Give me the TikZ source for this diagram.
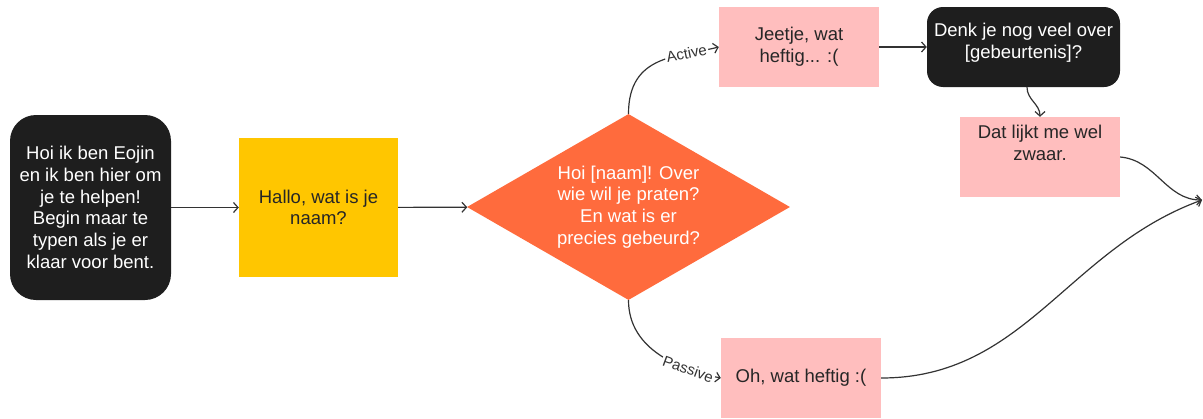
\documentclass[tikz,border=0pt]{standalone}
\usepackage{fontspec}
\setmainfont{Liberation Sans}
\usepackage{xcolor}
\usetikzlibrary{shapes,arrows.meta,positioning,calc}
\definecolor{boxblack}{HTML}{1E1E1E}
\definecolor{boxyellow}{HTML}{FFC600}
\definecolor{boxpink}{HTML}{FFBEBE}
\definecolor{diaorange}{HTML}{FF6B3D}
\definecolor{lijn}{HTML}{333333}
\tikzset{
    txt/.style={font=\fontsize{18.5}{21.7}\selectfont, align=center, inner sep=0pt},
    darkbox/.style={txt, fill=boxblack, text=white},
    pinkbox/.style={txt, fill=boxpink, text=black!85, minimum width=160pt, minimum height=80pt},
    yellowbox/.style={txt, fill=boxyellow, text=black!85, minimum width=159pt, minimum height=139pt},
    diabox/.style={txt, diamond, fill=diaorange, text=white, aspect=1.74, minimum width=323pt, minimum height=186pt},
    link/.style={draw=lijn, line width=1.2pt, -{Straight Barb[length=4.5pt,width=10pt]}},
    lbl/.style={font=\fontsize{15}{17}\selectfont, fill=white, inner sep=1.5pt, sloped, text=lijn}
}
\begin{document}
\begin{tikzpicture}[x=1pt,y=-1pt]
    \useasboundingbox (0,0) rectangle (1203,418);
    \node[darkbox, rounded corners=26pt, minimum width=161pt, minimum height=185pt] (start) at (90.5,207.5)
        {Hoi ik ben Eojin\\en ik ben hier om\\je te helpen!\\Begin maar te\\typen als je er\\klaar voor bent.};
    \node[yellowbox] (naam) at (318.5,207.5) {Hallo, wat is je\\naam?};
    \node[diabox] (vraag) at (628.5,207) {Hoi [naam]! Over\\wie wil je praten?\\En wat is er\\precies gebeurd?};
    \node[pinkbox] (actief) at (799,47) {Jeetje, wat\\heftig... :(};
    \node[darkbox, rounded corners=16pt, minimum width=193pt, minimum height=80pt, text depth=12pt] (denk) at (1023.5,47)
        {Denk je nog veel over\\{[gebeurtenis]?}};
    \node[pinkbox, text depth=28pt] (zwaar) at (1040,157) {Dat lijkt me wel\\zwaar.};
    \node[pinkbox] (passief) at (801,378) {Oh, wat heftig :(};
    \coordinate (uit) at (1202,200);

    \draw[link] (vraag.north) .. controls ($(vraag.north)+(0,-60)$) and ($(actief.west)+(-40,10)$) .. node[lbl, pos=0.74] {Active} (actief.west);
    \draw[link] (vraag.south) .. controls ($(vraag.south)+(0,50)$) and ($(passief.west)+(-40,-8)$) .. node[lbl, pos=0.74] {Passive} (passief.west);
    \draw[link] (start) -- (naam);
    \draw[link] (naam) -- (vraag);
    \draw[link] (actief) -- (denk);
    \draw[link] ($(denk.south)+(3.5,0)$) to[out=-90,in=90] (zwaar.north);
    \draw[link] (zwaar.east) to[out=-5,in=180] (uit);
    \draw[link] (passief.east) to[out=0,in=200] (uit);
\end{tikzpicture}
\end{document}
